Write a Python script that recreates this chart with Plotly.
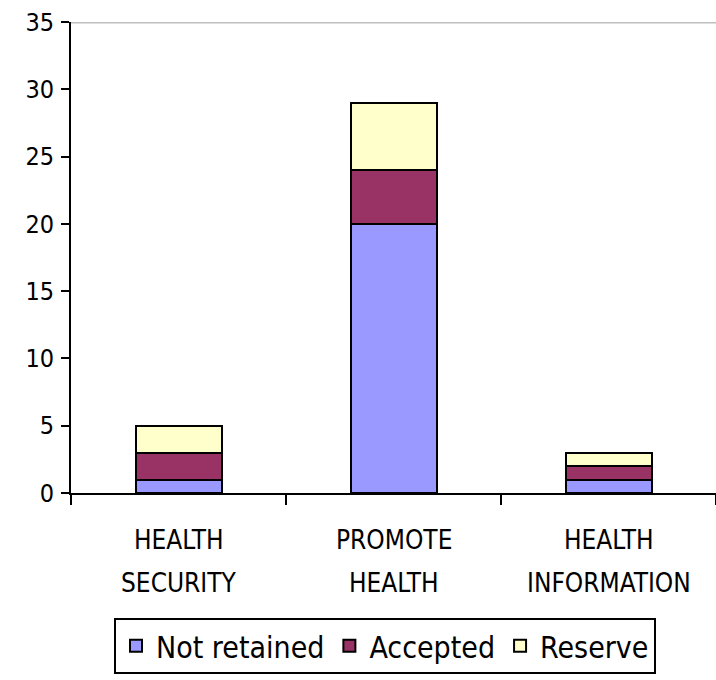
import plotly.graph_objects as go

categories = ["HEALTH SECURITY", "PROMOTE HEALTH", "HEALTH INFORMATION"]
label_line1 = ["HEALTH", "PROMOTE", "HEALTH"]
label_line2 = ["SECURITY", "HEALTH", "INFORMATION"]
series_names = ["Not retained", "Accepted", "Reserve"]
not_retained = [1, 20, 1]
accepted = [2, 4, 1]
reserve = [2, 5, 1]
colors = ["#9999FF", "#993366", "#FFFFCC"]
y_ticks = [0, 5, 10, 15, 20, 25, 30, 35]

FONT = "DejaVu Sans Condensed, Liberation Sans Narrow, Arial Narrow, sans-serif"

fig = go.Figure()
for name, vals, col in zip(series_names, [not_retained, accepted, reserve], colors):
    fig.add_trace(go.Bar(
        x=categories, y=vals, name=name,
        marker=dict(color=col, line=dict(color="black", width=2)),
    ))

for c, l1, l2 in zip(categories, label_line1, label_line2):
    fig.add_annotation(x=c, y=0, xref="x", yref="paper", text=l1, showarrow=False,
                       yanchor="middle", yshift=-47, font=dict(family=FONT, size=26, color="black"))
    fig.add_annotation(x=c, y=0, xref="x", yref="paper", text=l2, showarrow=False,
                       yanchor="middle", yshift=-90, font=dict(family=FONT, size=26, color="black"))

fig.add_shape(type="line", xref="paper", yref="y", x0=0, x1=1, y0=35, y1=35,
              line=dict(color="#c0c0c0", width=3), layer="above")

fig.update_layout(
    width=716, height=680,
    margin=dict(l=71, r=0, t=22, b=187, autoexpand=False),
    barmode="stack", bargap=0.6,
    plot_bgcolor="white", paper_bgcolor="white",
    font=dict(family=FONT, color="black"),
    showlegend=True,
    legend=dict(
        orientation="h", x=0.0667, xanchor="left", y=-0.265, yanchor="top",
        bordercolor="black", borderwidth=2, font=dict(family=FONT, size=30, color="black"),
        traceorder="normal", itemwidth=30,
    ),
    xaxis=dict(
        showline=True, linecolor="black", linewidth=2,
        ticks="outside", tickson="boundaries", ticklen=10, tickwidth=2, tickcolor="black",
        showticklabels=False, showgrid=False, range=[-0.5, 2.5],
    ),
    yaxis=dict(
        range=[0, 35], tickvals=y_ticks, showline=True, linecolor="black", linewidth=2,
        ticks="outside", ticklen=8, tickwidth=2, tickcolor="black", showgrid=False,
        zeroline=False, tickfont=dict(family=FONT, size=25, color="black"),
        ticklabelstandoff=2,
    ),
)

fig.write_html("out.html", config={"displayModeBar": False},
               post_script="document.body.style.margin='0';document.body.style.overflow='hidden';")
